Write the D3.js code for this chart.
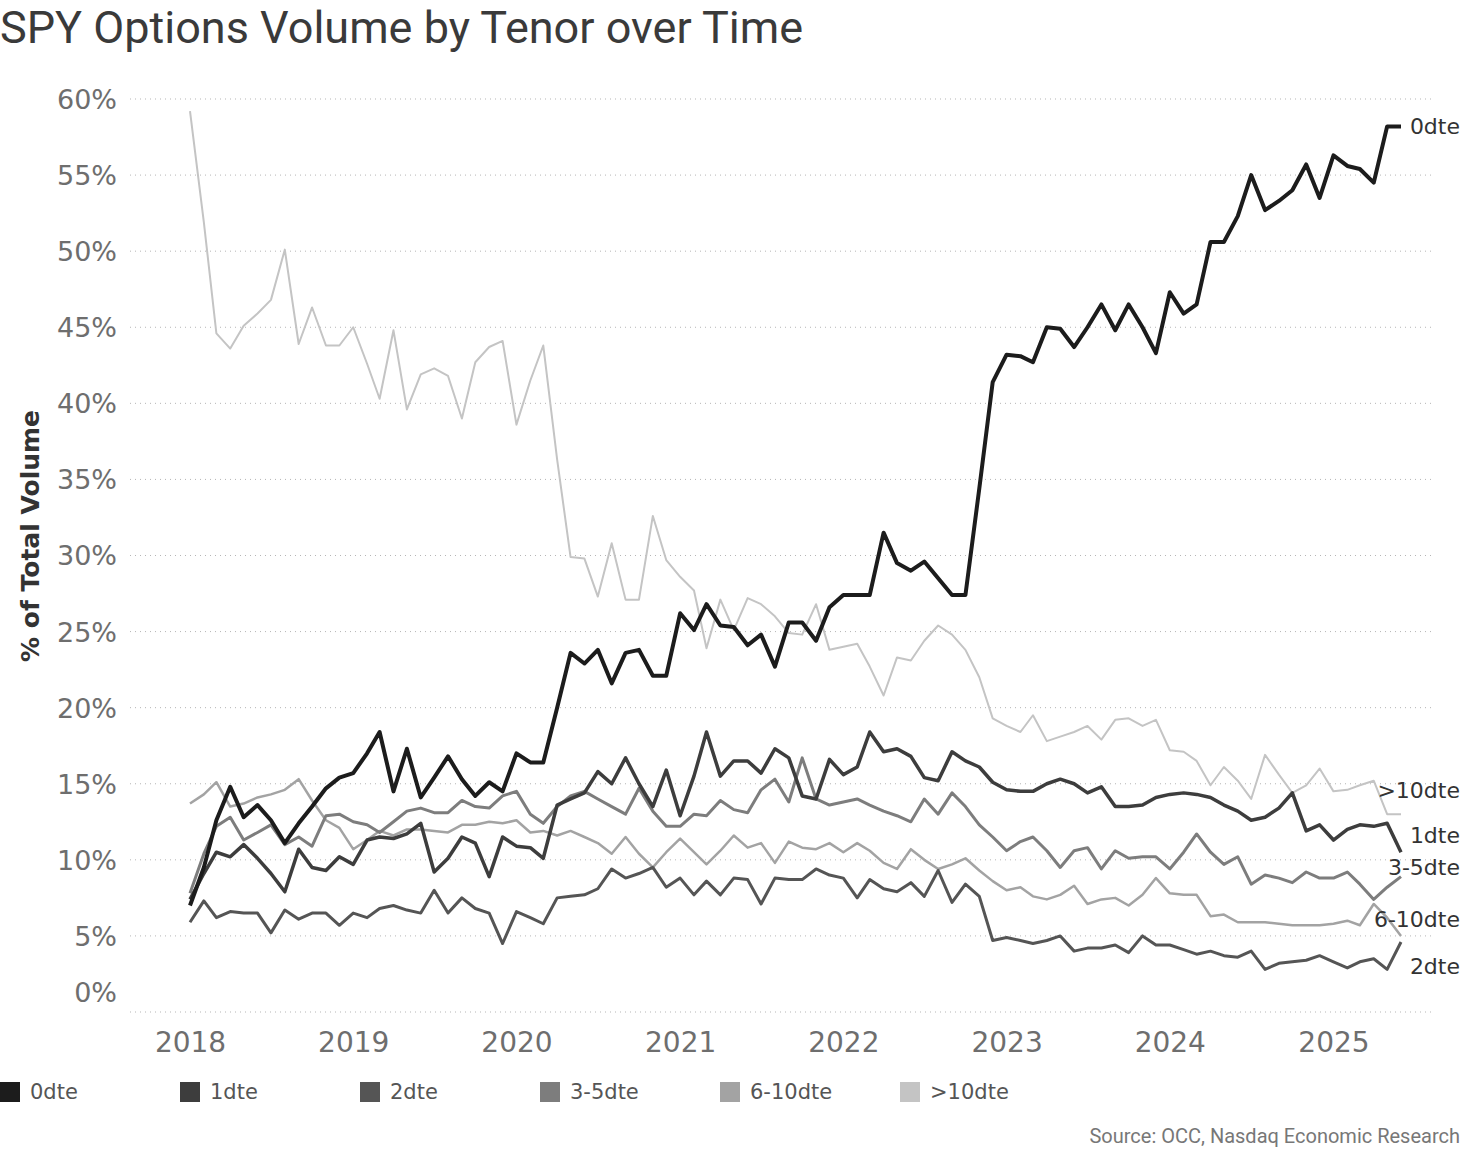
<!DOCTYPE html>
<html>
<head>
<meta charset="utf-8">
<script src="https://cdn.jsdelivr.net/npm/d3@7"></script>
<style>
body { margin: 0; background: #fff; }
svg { display: block; font-family: "DejaVu Sans", sans-serif; }
</style>
</head>
<body>
<svg id="chart" width="1470" height="1157"></svg>
<script>
// tenor buckets, in legend order
var tenors = ["0dte", "1dte", "2dte", "3-5dte", "6-10dte", ">10dte"];
var colors = ["#1c1c1c", "#3d3d3d", "#555555", "#7d7d7d", "#a3a3a3", "#c4c4c4"];
var widths = [4, 3.5, 3, 3, 2.5, 2];

var years = ["2018", "2019", "2020", "2021", "2022", "2023", "2024", "2025"];
var yTicks = [0, 5, 10, 15, 20, 25, 30, 35, 40, 45, 50, 55, 60];

// monthly share of total volume (%), Jan 2018 .. Jun 2025
var dte0 = [7.0, 9.5, 12.6, 14.8, 12.8, 13.6, 12.6, 11.1, 12.4, 13.5,
	14.7, 15.4, 15.7, 17.0, 18.4, 14.5, 17.3, 14.1, 15.4, 16.8,
	15.3, 14.2, 15.1, 14.5, 17.0, 16.4, 16.4, 20.0, 23.6, 22.9,
	23.8, 21.6, 23.6, 23.8, 22.1, 22.1, 26.2, 25.1, 26.8, 25.4,
	25.3, 24.1, 24.8, 22.7, 25.6, 25.6, 24.4, 26.6, 27.4, 27.4,
	27.4, 31.5, 29.5, 29.0, 29.6, 28.5, 27.4, 27.4, 34.4, 41.4,
	43.2, 43.1, 42.7, 45.0, 44.9, 43.7, 45.0, 46.5, 44.8, 46.5,
	45.0, 43.3, 47.3, 45.9, 46.5, 50.6, 50.6, 52.3, 55.0, 52.7,
	53.3, 54.0, 55.7, 53.5, 56.3, 55.6, 55.4, 54.5, 58.2, 58.2];

var dte1 = [7.4, 9.1, 10.5, 10.2, 11.0, 10.1, 9.1, 7.9, 10.7, 9.5,
	9.3, 10.2, 9.7, 11.3, 11.5, 11.4, 11.7, 12.4, 9.2, 10.1,
	11.5, 11.1, 8.9, 11.5, 10.9, 10.8, 10.1, 13.6, 14.0, 14.4,
	15.8, 15.0, 16.7, 15.0, 13.5, 15.9, 12.9, 15.5, 18.4, 15.5,
	16.5, 16.5, 15.7, 17.3, 16.7, 14.2, 14.0, 16.6, 15.6, 16.1,
	18.4, 17.1, 17.3, 16.8, 15.4, 15.2, 17.1, 16.5, 16.1, 15.1,
	14.6, 14.5, 14.5, 15.0, 15.3, 15.0, 14.4, 14.8, 13.5, 13.5,
	13.6, 14.1, 14.3, 14.4, 14.3, 14.1, 13.6, 13.2, 12.6, 12.8,
	13.4, 14.4, 11.9, 12.3, 11.3, 12.0, 12.3, 12.2, 12.4, 10.5];

var dte2 = [5.9, 7.3, 6.2, 6.6, 6.5, 6.5, 5.2, 6.7, 6.1, 6.5,
	6.5, 5.7, 6.5, 6.2, 6.8, 7.0, 6.7, 6.5, 8.0, 6.5,
	7.5, 6.8, 6.5, 4.5, 6.6, 6.2, 5.8, 7.5, 7.6, 7.7,
	8.1, 9.4, 8.8, 9.1, 9.5, 8.2, 8.8, 7.7, 8.6, 7.7,
	8.8, 8.7, 7.1, 8.8, 8.7, 8.7, 9.4, 9.0, 8.8, 7.5,
	8.7, 8.1, 7.9, 8.5, 7.6, 9.3, 7.2, 8.4, 7.6, 4.7,
	4.9, 4.7, 4.5, 4.7, 5.0, 4.0, 4.2, 4.2, 4.4, 3.9,
	5.0, 4.4, 4.4, 4.1, 3.8, 4.0, 3.7, 3.6, 4.0, 2.8,
	3.2, 3.3, 3.4, 3.7, 3.3, 2.9, 3.3, 3.5, 2.8, 4.6];

var dte3to5 = [7.8, 10.4, 12.2, 12.8, 11.3, 11.8, 12.3, 11.0, 11.5, 10.9,
	12.9, 13.0, 12.5, 12.3, 11.8, 12.5, 13.2, 13.4, 13.1, 13.1,
	13.9, 13.5, 13.4, 14.2, 14.5, 13.0, 12.4, 13.5, 14.2, 14.5,
	14.0, 13.5, 13.0, 14.7, 13.2, 12.2, 12.2, 13.0, 12.9, 13.9,
	13.3, 13.1, 14.6, 15.3, 13.8, 16.7, 14.0, 13.6, 13.8, 14.0,
	13.6, 13.2, 12.9, 12.5, 14.0, 13.0, 14.4, 13.5, 12.3, 11.5,
	10.6, 11.2, 11.5, 10.6, 9.5, 10.6, 10.8, 9.4, 10.6, 10.1,
	10.2, 10.2, 9.4, 10.5, 11.7, 10.5, 9.7, 10.2, 8.4, 9.0,
	8.8, 8.5, 9.2, 8.8, 8.8, 9.2, 8.4, 7.4, 8.2, 8.9];

var dte6to10 = [13.7, 14.3, 15.1, 13.5, 13.7, 14.1, 14.3, 14.6, 15.3, 13.9,
	12.6, 12.1, 10.7, 11.3, 11.9, 11.6, 12.0, 12.0, 11.9, 11.8,
	12.3, 12.3, 12.5, 12.4, 12.6, 11.8, 11.9, 11.6, 11.9, 11.5,
	11.1, 10.4, 11.5, 10.4, 9.5, 10.5, 11.4, 10.5, 9.7, 10.6,
	11.6, 10.8, 11.1, 9.8, 11.2, 10.8, 10.7, 11.1, 10.5, 11.1,
	10.6, 9.8, 9.4, 10.7, 10.0, 9.4, 9.7, 10.1, 9.3, 8.6,
	8.0, 8.2, 7.6, 7.4, 7.7, 8.3, 7.1, 7.4, 7.5, 7.0,
	7.7, 8.8, 7.8, 7.7, 7.7, 6.3, 6.4, 5.9, 5.9, 5.9,
	5.8, 5.7, 5.7, 5.7, 5.8, 6.0, 5.7, 7.1, 6.2, 5.0];

var dteOver10 = [59.2, 51.9, 44.6, 43.6, 45.1, 45.9, 46.8, 50.1, 43.9, 46.3,
	43.8, 43.8, 45.0, 42.6, 40.3, 44.8, 39.6, 41.9, 42.3, 41.8,
	39.0, 42.7, 43.7, 44.1, 38.6, 41.5, 43.8, 36.3, 29.9, 29.8,
	27.3, 30.8, 27.1, 27.1, 32.6, 29.7, 28.6, 27.7, 23.9, 27.1,
	25.1, 27.2, 26.8, 26.0, 24.9, 24.8, 26.8, 23.8, 24.0, 24.2,
	22.7, 20.8, 23.3, 23.1, 24.4, 25.4, 24.8, 23.8, 22.0, 19.3,
	18.8, 18.4, 19.5, 17.8, 18.1, 18.4, 18.8, 17.9, 19.2, 19.3,
	18.8, 19.2, 17.2, 17.1, 16.5, 14.9, 16.1, 15.2, 14.0, 16.9,
	15.6, 14.4, 14.9, 16.0, 14.5, 14.6, 14.9, 15.2, 13.0, 13.0];

var series = [dte0, dte1, dte2, dte3to5, dte6to10, dteOver10];
var months = d3.timeMonth.range(new Date(2018, 0, 1), new Date(2025, 6, 1));

// where the end labels sit (value axis, %) - spread out so they do not collide
var endLabelAt = [58.2, 11.6, 3.0, 9.5, 6.1, 14.6];

var svg = d3.select("#chart");

var x = d3.scaleTime()
	.domain([months[0], months[months.length - 1]])
	.range([190, 1401]);
var y = d3.scaleLinear()
	.domain([0, 60])
	.range([1012, 99]);

// title
svg.append("text")
	.attr("x", 0)
	.attr("y", 43)
	.attr("font-family", "Roboto, sans-serif")
	.attr("font-size", 45)
	.attr("fill", "#3a3a3a")
	.text("SPY Options Volume by Tenor over Time");

// gridlines
svg.append("g")
	.selectAll("line")
	.data(yTicks)
  .enter().append("line")
	.attr("x1", 130)
	.attr("x2", 1432)
	.attr("y1", function(d){ return y(d) })
	.attr("y2", function(d){ return y(d) })
	.attr("stroke", "#b5b5b5")
	.attr("stroke-width", 1)
	.attr("stroke-dasharray", "1,4");

// y axis
var yAxis = svg.append("g")
	.attr("transform", "translate(122,0)")
	.call(d3.axisLeft(y).tickValues(yTicks).tickSize(0).tickPadding(5)
		.tickFormat(function(d){ return d + "%" }));
yAxis.select(".domain").remove();
yAxis.selectAll("text")
	.attr("font-size", 27)
	.attr("font-family", "DejaVu Sans, sans-serif")
	.attr("fill", "#6e6e6e")
	.attr("dy", function(d){ return d == 0 ? "-0.4em" : "0.35em" });

svg.append("text")
	.attr("transform", "translate(39,536) rotate(-90)")
	.attr("text-anchor", "middle")
	.attr("font-size", 25)
	.attr("font-weight", "bold")
	.attr("fill", "#333")
	.text("% of Total Volume");

// x axis
var xAxis = svg.append("g")
	.attr("transform", "translate(0,1029)")
	.call(d3.axisBottom(x).ticks(d3.timeYear.every(1)).tickSize(0).tickPadding(3)
		.tickFormat(function(d, i){ return years[i] }));
xAxis.select(".domain").remove();
xAxis.selectAll("text")
	.attr("font-size", 28)
	.attr("font-family", "DejaVu Sans, sans-serif")
	.attr("fill", "#6e6e6e");

// lines, light ones first so 0dte ends on top
var line = d3.line()
	.x(function(d, i){ return x(months[i]) })
	.y(function(d){ return y(d) });

var order = [5, 4, 3, 2, 1, 0];
svg.append("g")
	.selectAll("path")
	.data(order)
  .enter().append("path")
	.attr("d", function(k){ return line(series[k]) })
	.attr("fill", "none")
	.attr("stroke", function(k){ return colors[k] })
	.attr("stroke-width", function(k){ return widths[k] })
	.attr("stroke-linejoin", "round");

// end labels
svg.append("g")
	.selectAll("text")
	.data(tenors)
  .enter().append("text")
	.attr("x", 1460)
	.attr("y", function(d, i){ return y(endLabelAt[i]) })
	.attr("dy", "0.35em")
	.attr("text-anchor", "end")
	.attr("font-size", 22)
	.attr("fill", "#333")
	.text(function(d){ return d });

// legend
var legend = svg.append("g")
	.attr("transform", "translate(0,1092)")
	.selectAll("g")
	.data(tenors)
  .enter().append("g")
	.attr("transform", function(d, i){ return "translate(" + (i * 180) + ",0)" });
legend.append("rect")
	.attr("x", 0)
	.attr("y", -10)
	.attr("width", 20)
	.attr("height", 20)
	.attr("fill", function(d, i){ return colors[i] });
legend.append("text")
	.attr("x", 30)
	.attr("dy", "0.35em")
	.attr("font-size", 21)
	.attr("fill", "#555")
	.text(function(d){ return d });

// source
svg.append("text")
	.attr("x", 1460)
	.attr("y", 1143)
	.attr("text-anchor", "end")
	.attr("font-family", "Roboto, sans-serif")
	.attr("font-size", 20)
	.attr("fill", "#777")
	.text("Source: OCC, Nasdaq Economic Research");
</script>
</body>
</html>
